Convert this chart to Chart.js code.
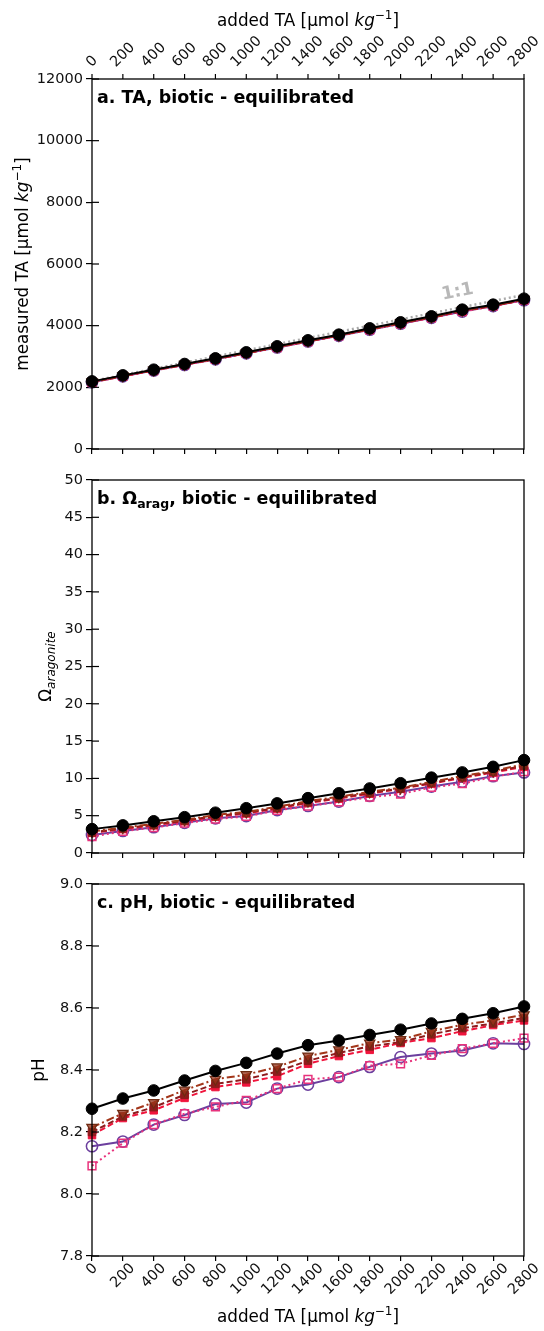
<!DOCTYPE html>
<html><head><meta charset="utf-8">
<script src="https://cdn.jsdelivr.net/npm/chart.js@4"></script>
<style>
html,body{margin:0;padding:0;background:#fff;}
body{width:544px;height:1331px;position:relative;overflow:hidden;}
canvas{position:absolute;left:0;}
</style></head>
<body>
<canvas id="cA" width="544" height="466" style="top:0px;width:544px;height:466px"></canvas>
<canvas id="cB" width="544" height="404" style="top:466px;width:544px;height:404px"></canvas>
<canvas id="cC" width="544" height="461" style="top:870px;width:544px;height:461px"></canvas>
<script>
// ---------------- DATA ----------------
const addedTA = [0,200,400,600,800,1000,1200,1400,1600,1800,2000,2200,2400,2600,2800];
const xTickLabels = ['0','200','400','600','800','1000','1200','1400','1600','1800','2000','2200','2400','2600','2800'];

const taTicks = [0,2000,4000,6000,8000,10000,12000];
const taTickLabels = ['0','2000','4000','6000','8000','10000','12000'];
const omTicks = [0,5,10,15,20,25,30,35,40,45,50];
const omTickLabels = ['0','5','10','15','20','25','30','35','40','45','50'];
const phTicks = [7.8,8.0,8.2,8.4,8.6,8.8,9.0];
const phTickLabels = ['7.8','8.0','8.2','8.4','8.6','8.8','9.0'];

// 1:1 reference line (start, end)
const oneToOneX = [0,2800];
const oneToOneY = [2200,5000];

// panel a: measured TA
const taBlack   = [2193,2388,2572,2757,2940,3135,3330,3524,3708,3913,4108,4302,4519,4681,4875];
const taBrown   = [2180,2375,2560,2745,2925,3120,3312,3505,3690,3892,4088,4280,4495,4660,4850];
const taDarkRed = [2175,2370,2555,2740,2920,3115,3305,3500,3685,3885,4080,4272,4480,4650,4840];
const taRed     = [2170,2365,2550,2735,2915,3110,3300,3495,3680,3880,4075,4265,4470,4645,4835];
const taMagenta = [2160,2355,2540,2725,2905,3100,3290,3485,3668,3868,4062,4252,4455,4632,4825];
const taPurple  = [2165,2358,2545,2728,2908,3102,3292,3488,3670,3870,4065,4255,4458,4635,4828];

// panel b: Omega aragonite
const omBlack   = [3.2,3.7,4.25,4.8,5.4,6.0,6.65,7.35,8.0,8.65,9.35,10.1,10.8,11.55,12.45];
const omBrown   = [2.9,3.4,3.9,4.45,5.1,5.5,6.2,6.95,7.55,8.2,8.75,9.55,10.3,11.0,11.9];
const omDarkRed = [2.75,3.3,3.8,4.35,4.95,5.4,6.05,6.8,7.4,8.05,8.65,9.4,10.15,10.9,11.7];
const omRed     = [2.7,3.2,3.7,4.25,4.85,5.3,5.95,6.7,7.3,7.95,8.6,9.3,10.05,10.8,11.55];
const omMagenta = [2.2,2.9,3.4,4.0,4.55,4.9,5.7,6.3,6.85,7.5,7.9,8.8,9.3,10.2,10.9];
const omPurple  = [2.4,2.95,3.45,4.05,4.65,4.95,5.75,6.3,6.9,7.65,8.2,8.9,9.55,10.3,10.8];

// panel c: pH
const phBlack   = [8.275,8.308,8.334,8.366,8.397,8.423,8.453,8.48,8.495,8.513,8.53,8.55,8.565,8.583,8.605];
const phBrown   = [8.215,8.26,8.295,8.335,8.37,8.385,8.41,8.445,8.465,8.487,8.498,8.525,8.546,8.56,8.578];
const phDarkRed = [8.20,8.25,8.28,8.32,8.355,8.37,8.395,8.43,8.455,8.476,8.49,8.515,8.535,8.55,8.568];
const phRed     = [8.19,8.245,8.27,8.31,8.345,8.36,8.38,8.42,8.445,8.465,8.487,8.503,8.525,8.545,8.56];
const phMagenta = [8.091,8.164,8.224,8.259,8.281,8.302,8.34,8.37,8.377,8.414,8.42,8.447,8.469,8.486,8.503];
const phPurple  = [8.154,8.169,8.224,8.255,8.29,8.295,8.34,8.353,8.377,8.41,8.442,8.453,8.463,8.486,8.484];

// ---------------- STYLE ----------------
const FF = 'DejaVu Sans';
const LBL = 16.8, TCK = 14.5, TTL = 17.5;
const PL = 92, PR = 524;

function pts(arr){ return arr.map((v,i)=>({x:addedTA[i], y:v})); }

function seriesSet(bk, br, dr, rd, mg, pu){
  return [
    {data:pts(bk), borderColor:'#000', backgroundColor:'#000', borderWidth:2, pointStyle:'circle', pointRadius:5.8, pointBorderWidth:1},
    {data:pts(br), borderColor:'#a3361a', backgroundColor:'rgba(150,50,25,0.75)', borderWidth:2, borderDash:[8,3,2,3], pointStyle:'triangle', rotation:180, pointRadius:6, pointBorderColor:'#6e2a12', pointBorderWidth:1.2},
    {data:pts(dr), borderColor:'#8e1c1c', backgroundColor:'#8e1c1c', borderWidth:2, borderDash:[6,3], pointStyle:'rect', pointRadius:5.3, pointBorderWidth:1},
    {data:pts(rd), borderColor:'#f0143c', backgroundColor:'#f0143c', borderWidth:2, borderDash:[6,3], pointStyle:'rect', pointRadius:5.3, pointBorderWidth:1},
    {data:pts(mg), borderColor:'#e8327c', backgroundColor:'rgba(0,0,0,0)', borderWidth:2, borderDash:[2,3], pointStyle:'rect', pointRadius:5.5, pointBorderWidth:1.5},
    {data:pts(pu), borderColor:'#6c3f9e', backgroundColor:'rgba(0,0,0,0)', borderWidth:2, pointStyle:'circle', pointRadius:5.6, pointBorderWidth:1.5}
  ];
}

function drawRich(ctx, segs, x, y, align, rot){
  ctx.save();
  ctx.translate(x,y); if(rot) ctx.rotate(rot);
  let total=0;
  segs.forEach(s=>{ctx.font=s.f; s.w=ctx.measureText(s.t).width; total+=s.w;});
  let cx = align==='center' ? -total/2 : 0;
  ctx.textAlign='left'; ctx.textBaseline='alphabetic';
  ctx.fillStyle = '#000';
  segs.forEach(s=>{ctx.font=s.f; ctx.fillText(s.t, cx, s.dy||0); cx+=s.w;});
  ctx.restore();
}

const F = (w)=> w + 'px ' + FF;
const xTitleSegs = [{t:'added TA [μmol ', f:F(LBL)},{t:'kg', f:'italic '+F(LBL)},{t:'−1', f:F(12), dy:-7},{t:']', f:F(LBL)}];

function decorPlugin(cfg){
  return {
    id:'decor',
    afterDraw(chart){
      const ctx = chart.ctx, a = chart.chartArea;
      const xs = chart.scales.x, ys = chart.scales.y;
      ctx.save();
      // frame
      ctx.strokeStyle='#000'; ctx.lineWidth=1.3;
      ctx.strokeRect(a.left, a.top, a.right-a.left, a.bottom-a.top);
      // inner y tick parts
      ctx.lineWidth=1.2;
      ys.ticks.forEach(t=>{
        const y = ys.getPixelForValue(t.value);
        ctx.beginPath(); ctx.moveTo(a.left, y); ctx.lineTo(a.left+7, y); ctx.stroke();
      });
      // top ticks
      if(cfg.topLabels){
        xs.ticks.forEach(t=>{
          const x = xs.getPixelForValue(t.value);
          ctx.beginPath(); ctx.moveTo(x, a.top); ctx.lineTo(x, a.top-5); ctx.stroke();
        });
      }
      // rotated x tick labels (centered like matplotlib)
      if(cfg.topLabels || cfg.bottomLabels){
        ctx.font = F(TCK); ctx.fillStyle='#111';
        ctx.textAlign='center'; ctx.textBaseline='middle';
        xs.ticks.forEach((t,i)=>{
          const x = xs.getPixelForValue(t.value);
          const lab = xTickLabels[i];
          const w = ctx.measureText(lab).width, h = TCK;
          const bh = (w+h)*Math.SQRT1_2;
          const cy = cfg.topLabels ? (a.top - 9 - bh/2) : (a.bottom + 5 + bh/2);
          ctx.save(); ctx.translate(x, cy); ctx.rotate(-Math.PI/4);
          ctx.fillText(lab, 0, 0); ctx.restore();
        });
        const xc = (a.left+a.right)/2;
        drawRich(ctx, xTitleSegs, xc, cfg.xTitleY, 'center');
      }
      // y title
      drawRich(ctx, cfg.yTitle, cfg.yTitleX, (a.top+a.bottom)/2, 'center', -Math.PI/2);
      // panel title
      drawRich(ctx, cfg.title, a.left+5, a.top+24, 'left');
      // 1:1 annotation
      if(cfg.oneToOne){
        const px = xs.getPixelForValue(2370), py = ys.getPixelForValue(5090);
        ctx.save(); ctx.translate(px,py); ctx.rotate(-0.2);
        ctx.font='bold 18px '+FF; ctx.fillStyle='#b8b8b8'; ctx.textAlign='center'; ctx.textBaseline='middle';
        ctx.fillText('1:1',0,0); ctx.restore();
      }
      ctx.restore();
    }
  };
}

function makePanel(id, cfg){
  const ds = cfg.datasets;
  ds.forEach(d=>{ d.tension=0; d.fill=false; d.clip=false; });
  new Chart(document.getElementById(id), {
    type:'line',
    data:{datasets:ds},
    options:{
      responsive:false, animation:false, devicePixelRatio:1,
      layout:{padding:{top:cfg.padTop, right:544-PR, left:0, bottom:0}},
      plugins:{legend:{display:false}, tooltip:{enabled:false}, title:{display:false}},
      scales:{
        x:{type:'linear', min:0, max:2800,
           afterBuildTicks:s=>{ s.ticks = addedTA.map(v=>({value:v})); },
           ticks:{display:false},
           grid:{drawOnChartArea:false, drawTicks:true, tickLength:5, color:'#000', lineWidth:1.2},
           border:{display:false},
           afterFit:s=>{ s.height = cfg.padBottom; }},
        y:{type:'linear', min:cfg.yTicks[0], max:cfg.yTicks[cfg.yTicks.length-1],
           afterBuildTicks:s=>{ s.ticks = cfg.yTicks.map(v=>({value:v})); },
           ticks:{font:{family:FF, size:TCK}, color:'#111', padding:3,
                  callback:(v,i)=>cfg.yLabels[i]},
           grid:{drawOnChartArea:false, drawTicks:true, tickLength:6, color:'#000', lineWidth:1.2},
           border:{display:false},
           afterFit:s=>{ s.width = PL; }}
      }
    },
    plugins:[decorPlugin(cfg)]
  });
}

// Panel A
const dsA = seriesSet(taBlack, taBrown, taDarkRed, taRed, taMagenta, taPurple);
dsA.push({data:oneToOneX.map((x,i)=>({x:x, y:oneToOneY[i]})), borderColor:'#aaaaaa', borderWidth:2.5, borderDash:[2,3], pointRadius:0});
makePanel('cA', {
  datasets:dsA, padTop:79, padBottom:466-449,
  yTicks:taTicks, yLabels:taTickLabels,
  topLabels:true, xTitleY:26,
  yTitle:[{t:'measured TA [μmol ', f:F(LBL)},{t:'kg', f:'italic '+F(LBL)},{t:'−1', f:F(12), dy:-7},{t:']', f:F(LBL)}],
  yTitleX:28,
  title:[{t:'a. TA, biotic - equilibrated', f:'bold '+F(TTL)}],
  oneToOne:true
});
// Panel B
makePanel('cB', {
  datasets:seriesSet(omBlack, omBrown, omDarkRed, omRed, omMagenta, omPurple),
  padTop:480-466, padBottom:870-853,
  yTicks:omTicks, yLabels:omTickLabels,
  yTitle:[{t:'Ω', f:F(LBL)},{t:'aragonite', f:'italic '+F(12), dy:4}],
  yTitleX:51,
  title:[{t:'b. Ω', f:'bold '+F(TTL)},{t:'arag', f:'bold '+F(12.5), dy:4},{t:', biotic - equilibrated', f:'bold '+F(TTL)}]
});
// Panel C
makePanel('cC', {
  datasets:seriesSet(phBlack, phBrown, phDarkRed, phRed, phMagenta, phPurple),
  padTop:884-870, padBottom:1331-1256,
  yTicks:phTicks, yLabels:phTickLabels,
  bottomLabels:true, xTitleY:1322-870,
  yTitle:[{t:'pH', f:F(LBL)}],
  yTitleX:44,
  title:[{t:'c. pH, biotic - equilibrated', f:'bold '+F(TTL)}]
});
</script>
</body></html>
